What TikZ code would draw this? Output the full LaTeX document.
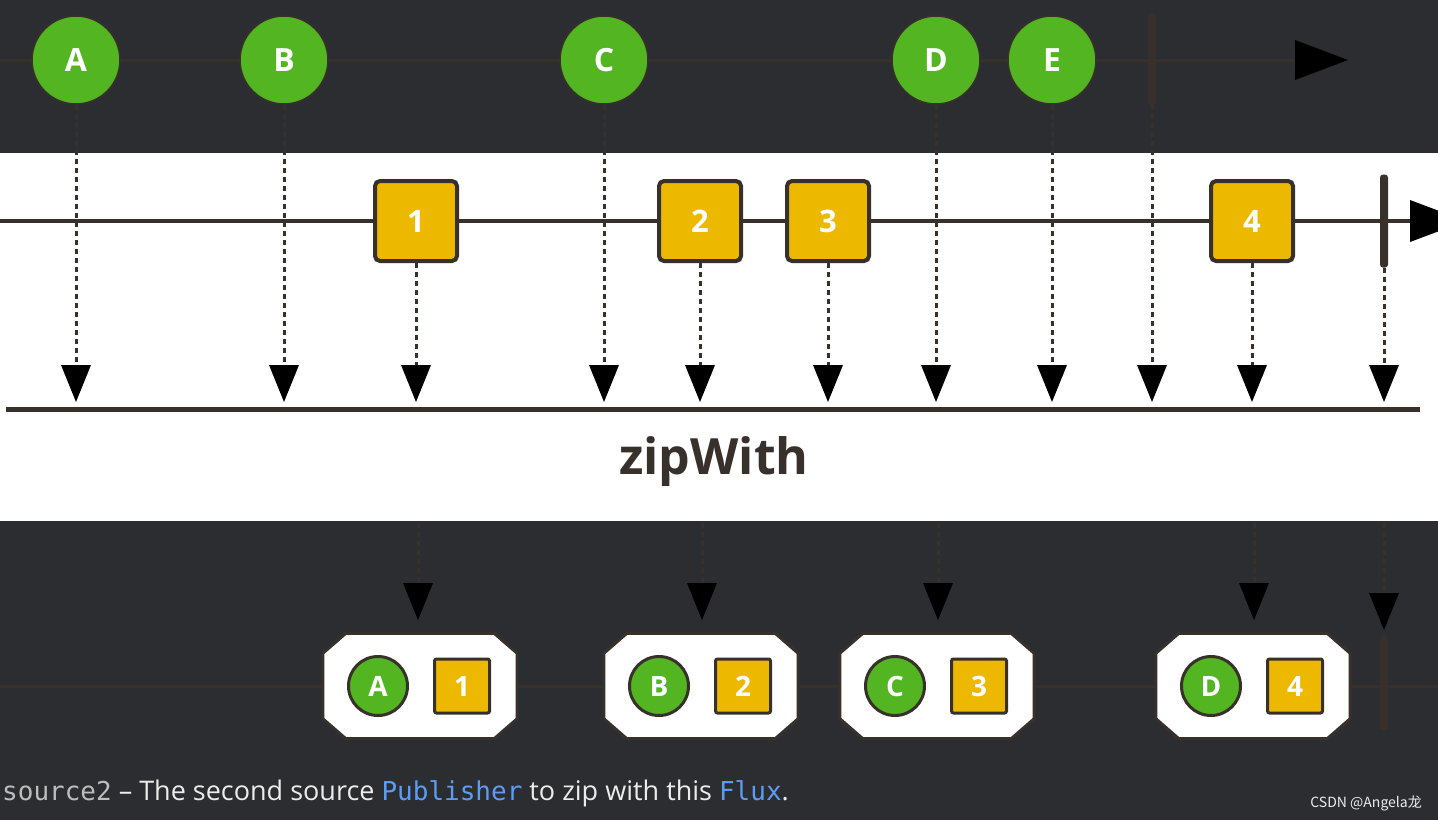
\documentclass[tikz,border=0pt]{standalone}
\usepackage{fontspec}
\setmainfont{Open Sans}
\newfontfamily\codefont{DejaVu Sans Mono}
\newfontfamily\cjkfont{Noto Sans CJK SC}
\usetikzlibrary{arrows.meta}
\definecolor{bgdark}{HTML}{2C2D31}
\definecolor{marblegreen}{HTML}{52B521}
\definecolor{marbleyellow}{HTML}{EDB900}
\definecolor{lineink}{HTML}{38302A}
\definecolor{codeblue}{HTML}{5C9CF5}
\definecolor{codegray}{HTML}{BDBDBD}
\definecolor{captext}{HTML}{ECECEC}
\tikzset{
        marble/.style={circle, fill=marblegreen, draw=lineink, line width=1.5pt, minimum size=88pt, inner sep=0pt, text=white, font=\fontsize{32}{32}\selectfont\bfseries},
        item/.style={rectangle, rounded corners=5pt, fill=marbleyellow, draw=lineink, line width=4pt, minimum width=82pt, minimum height=80pt, inner sep=0pt, text=white, font=\fontsize{31}{31}\selectfont\bfseries},
        smallmarble/.style={marble, line width=3pt, minimum size=59pt, font=\fontsize{28}{28}\selectfont\bfseries},
        smallitem/.style={item, rounded corners=2pt, line width=3pt, minimum width=55pt, minimum height=54pt, font=\fontsize{28}{28}\selectfont\bfseries},
        stopbar/.style={rectangle, rounded corners=3pt, fill=lineink, minimum width=8pt, inner sep=0pt},
        pairslot/.style={rectangle, minimum width=194pt, minimum height=105pt, inner sep=0pt},
        pairfill/.style={fill=white, draw=lineink, line width=3pt},
        dotarrow/.style={draw=lineink, line width=3pt, dash pattern=on 5pt off 4pt, -{Triangle[width=30pt,length=37pt,black,line width=0pt]}},
        timeline/.style={draw=lineink, line width=3pt}
}
\begin{document}
\begin{tikzpicture}[x=1pt,y=-1pt]
        \clip (0,0) rectangle (1438,820);
        \fill[bgdark] (0,0) rectangle (1438,820);
        \fill[white] (0,153) rectangle (1438,521);

        \coordinate (topstart) at (0,60);
        \coordinate (topend) at (1348,60);
        \draw[timeline, -{Triangle[width=40pt,length=53pt,black,line width=0pt]}] (topstart) -- (topend);
        \node[marble] (a) at (76,60) {A};
        \node[marble] (b) at (284,60) {B};
        \node[marble] (c) at (604,60) {C};
        \node[marble] (d) at (936,60) {D};
        \node[marble] (e) at (1052,60) {E};
        \node[stopbar, minimum height=92pt] (topstop) at (1152,59) {};

        \coordinate (midstart) at (0,221);
        \coordinate (midend) at (1466,221);
        \draw[timeline, line width=4pt, -{Triangle[width=42pt,length=56pt,black,line width=0pt]}] (midstart) -- (midend);
        \node[item] (n1) at (416,221) {1};
        \node[item] (n2) at (700,221) {2};
        \node[item] (n3) at (828,221) {3};
        \node[item] (n4) at (1252,221) {4};
        \node[stopbar, minimum height=93pt] (midstop) at (1384,221) {};

        \coordinate (ta) at (76,402);
        \coordinate (tb) at (284,402);
        \coordinate (t1) at (416,402);
        \coordinate (tc) at (604,402);
        \coordinate (t2) at (700,402);
        \coordinate (t3) at (828,402);
        \coordinate (td) at (936,402);
        \coordinate (te) at (1052,402);
        \coordinate (ttopstop) at (1152,402);
        \coordinate (t4) at (1252,402);
        \coordinate (tmidstop) at (1384,402);
        \draw[dotarrow] (a) -- (ta);
        \draw[dotarrow] (b) -- (tb);
        \draw[dotarrow] (n1) -- (t1);
        \draw[dotarrow] (c) -- (tc);
        \draw[dotarrow] (n2) -- (t2);
        \draw[dotarrow] (n3) -- (t3);
        \draw[dotarrow] (d) -- (td);
        \draw[dotarrow] (e) -- (te);
        \draw[dotarrow] (topstop) -- (ttopstop);
        \draw[dotarrow] (n4) -- (t4);
        \draw[dotarrow] (midstop) -- (tmidstop);

        \coordinate (opleft) at (6,409);
        \coordinate (opright) at (1420,409);
        \draw[timeline, line width=5pt] (opleft) -- (opright);
        \node[text=lineink, font=\fontsize{50}{50}\selectfont\bfseries] (op) at (714,462) {zipWith};

        \coordinate (botstart) at (0,686);
        \coordinate (botend) at (1438,686);
        \draw[timeline] (botstart) -- (botend);
        \coordinate (s1) at (418,523);
        \coordinate (s2) at (702,523);
        \coordinate (s3) at (938,523);
        \coordinate (s4) at (1254,523);
        \coordinate (s5) at (1384,523);
        \coordinate (r1) at (418,620);
        \coordinate (r2) at (702,620);
        \coordinate (r3) at (938,620);
        \coordinate (r4) at (1254,620);
        \coordinate (r5) at (1384,630);
        \draw[dotarrow] (s1) -- (r1);
        \draw[dotarrow] (s2) -- (r2);
        \draw[dotarrow] (s3) -- (r3);
        \draw[dotarrow] (s4) -- (r4);
        \draw[dotarrow] (s5) -- (r5);

        \node[pairslot] (p1) at (420,686) {};
        \node[pairslot] (p2) at (701,686) {};
        \node[pairslot] (p3) at (937,686) {};
        \node[pairslot] (p4) at (1253,686) {};
        \filldraw[pairfill] ([xshift=23pt]p1.north west) -- ([xshift=-23pt]p1.north east) -- ([yshift=-20pt]p1.north east) -- ([yshift=20pt]p1.south east) -- ([xshift=-23pt]p1.south east) -- ([xshift=23pt]p1.south west) -- ([yshift=20pt]p1.south west) -- ([yshift=-20pt]p1.north west) -- cycle;
        \filldraw[pairfill] ([xshift=23pt]p2.north west) -- ([xshift=-23pt]p2.north east) -- ([yshift=-20pt]p2.north east) -- ([yshift=20pt]p2.south east) -- ([xshift=-23pt]p2.south east) -- ([xshift=23pt]p2.south west) -- ([yshift=20pt]p2.south west) -- ([yshift=-20pt]p2.north west) -- cycle;
        \filldraw[pairfill] ([xshift=23pt]p3.north west) -- ([xshift=-23pt]p3.north east) -- ([yshift=-20pt]p3.north east) -- ([yshift=20pt]p3.south east) -- ([xshift=-23pt]p3.south east) -- ([xshift=23pt]p3.south west) -- ([yshift=20pt]p3.south west) -- ([yshift=-20pt]p3.north west) -- cycle;
        \filldraw[pairfill] ([xshift=23pt]p4.north west) -- ([xshift=-23pt]p4.north east) -- ([yshift=-20pt]p4.north east) -- ([yshift=20pt]p4.south east) -- ([xshift=-23pt]p4.south east) -- ([xshift=23pt]p4.south west) -- ([yshift=20pt]p4.south west) -- ([yshift=-20pt]p4.north west) -- cycle;
        \node[smallmarble] (pa) at (378,686) {A};
        \node[smallitem] (p1n) at (462,686) {1};
        \node[smallmarble] (pb) at (659,686) {B};
        \node[smallitem] (p2n) at (743,686) {2};
        \node[smallmarble] (pc) at (895,686) {C};
        \node[smallitem] (p3n) at (979,686) {3};
        \node[smallmarble] (pd) at (1211,686) {D};
        \node[smallitem] (p4n) at (1295,686) {4};
        \node[stopbar, minimum height=94pt] (botstop) at (1384,683) {};

        \node[anchor=base west, inner sep=0pt, text=captext, font=\fontsize{27}{27}\selectfont] (caption) at (2,800) {{\codefont\fontsize{26}{26}\selectfont\color{codegray}source2} – The second source {\codefont\fontsize{26}{26}\selectfont\color{codeblue}Publisher} to zip with this {\codefont\fontsize{26}{26}\selectfont\color{codeblue}Flux}.};
        \node[anchor=base east, inner sep=0pt, text=captext, font=\cjkfont\fontsize{14}{14}\selectfont] (mark) at (1422,807) {CSDN @Angela龙};
\end{tikzpicture}
\end{document}
